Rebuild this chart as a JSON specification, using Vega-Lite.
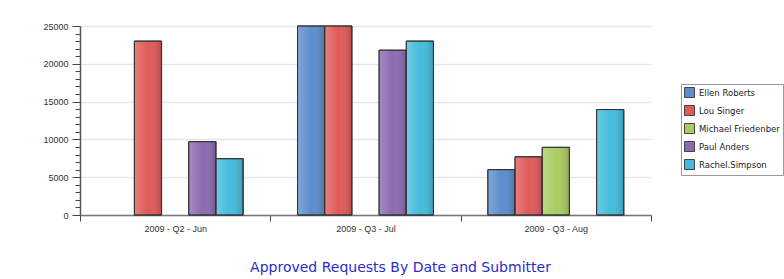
{
  "$schema": "https://vega.github.io/schema/vega-lite/v6.json",
  "width": 571,
  "height": 189,
  "autosize": {"type": "none"},
  "padding": {"left": 80, "top": 26, "right": 133, "bottom": 64},
  "background": "white",
  "title": {
    "text": "Approved Requests By Date and Submitter",
    "orient": "bottom",
    "anchor": "middle",
    "dx": 35,
    "offset": 28,
    "font": "DejaVu Sans",
    "fontSize": 14,
    "fontWeight": "normal",
    "color": "#2B2BD0"
  },
  "config": {
    "view": {"stroke": null},
    "axis": {"labelFont": "Liberation Sans", "labelFontSize": 9, "labelColor": "#333333", "domainColor": "#777777", "tickColor": "#444444"}
  },
  "data": {
    "values": [
      {"period": "2009 - Q2 - Jun", "submitter": "Lou Singer", "amount": 23000},
      {"period": "2009 - Q2 - Jun", "submitter": "Paul Anders", "amount": 9700},
      {"period": "2009 - Q2 - Jun", "submitter": "Rachel.Simpson", "amount": 7450},
      {"period": "2009 - Q3 - Jul", "submitter": "Ellen Roberts", "amount": 25000},
      {"period": "2009 - Q3 - Jul", "submitter": "Lou Singer", "amount": 25000},
      {"period": "2009 - Q3 - Jul", "submitter": "Paul Anders", "amount": 21800},
      {"period": "2009 - Q3 - Jul", "submitter": "Rachel.Simpson", "amount": 23000},
      {"period": "2009 - Q3 - Aug", "submitter": "Ellen Roberts", "amount": 6000},
      {"period": "2009 - Q3 - Aug", "submitter": "Lou Singer", "amount": 7700},
      {"period": "2009 - Q3 - Aug", "submitter": "Michael Friedenber", "amount": 8950},
      {"period": "2009 - Q3 - Aug", "submitter": "Rachel.Simpson", "amount": 13950}
    ]
  },
  "encoding": {
    "x": {
      "field": "period",
      "type": "nominal",
      "sort": ["2009 - Q2 - Jun", "2009 - Q3 - Jul", "2009 - Q3 - Aug"],
      "scale": {"paddingInner": 0, "paddingOuter": 0},
      "axis": {"title": null, "labelAngle": 0, "tickBand": "extent", "tickSize": 6, "labelPadding": 3, "domainWidth": 1.5}
    },
    "xOffset": {
      "field": "submitter",
      "type": "nominal",
      "scale": {"domain": ["Ellen Roberts", "Lou Singer", "Michael Friedenber", "Paul Anders", "Rachel.Simpson"], "paddingInner": 0, "paddingOuter": 1.02}
    },
    "y": {
      "field": "amount",
      "type": "quantitative",
      "scale": {"domain": [0, 25000], "nice": false},
      "axis": {
        "title": null,
        "values": [0,1000,2000,3000,4000,5000,6000,7000,8000,9000,10000,11000,12000,13000,14000,15000,16000,17000,18000,19000,20000,21000,22000,23000,24000,25000],
        "labelExpr": "datum.value % 5000 === 0 ? datum.value : ''",
        "format": "d",
        "tickSize": {"condition": {"test": "datum.value % 5000 === 0", "value": 8}, "value": 5},
        "gridColor": "#E6E6E6",
        "gridWidth": 1.5,
        "gridOpacity": {"condition": {"test": "datum.value % 5000 === 0", "value": 1}, "value": 0},
        "domainColor": "#555555",
        "domainWidth": 1.5,
        "labelPadding": 4
      }
    }
  },
  "layer": [
    {
      "mark": {"type": "bar", "stroke": "#333333", "strokeWidth": 1},
      "encoding": {
        "color": {
          "field": "submitter",
          "type": "nominal",
          "scale": {
            "domain": ["Ellen Roberts", "Lou Singer", "Michael Friedenber", "Paul Anders", "Rachel.Simpson"],
            "range": ["#5D8DCC", "#E05A5A", "#A9CC63", "#8C6BB1", "#45BCDD"]
          },
          "legend": {
            "title": null,
            "orient": "none",
            "legendX": 601,
            "legendY": 58,
            "symbolType": "square",
            "symbolSize": 100,
            "symbolStrokeColor": "#444444",
            "symbolStrokeWidth": 1,
            "labelFont": "DejaVu Sans",
            "labelFontSize": 8.5,
            "labelColor": "#222222",
            "rowPadding": 3,
            "strokeColor": "#999999",
            "padding": 3,
            "labelLimit": 200
          }
        }
      }
    },
    {
      "mark": {
        "type": "bar",
        "stroke": "#333333",
        "strokeWidth": 1,
        "color": {
          "gradient": "linear",
          "x1": 0, "y1": 0, "x2": 1, "y2": 0,
          "stops": [
            {"offset": 0, "color": "rgba(255,255,255,0.22)"},
            {"offset": 0.5, "color": "rgba(255,255,255,0)"},
            {"offset": 1, "color": "rgba(0,0,0,0.18)"}
          ]
        }
      }
    }
  ]
}
